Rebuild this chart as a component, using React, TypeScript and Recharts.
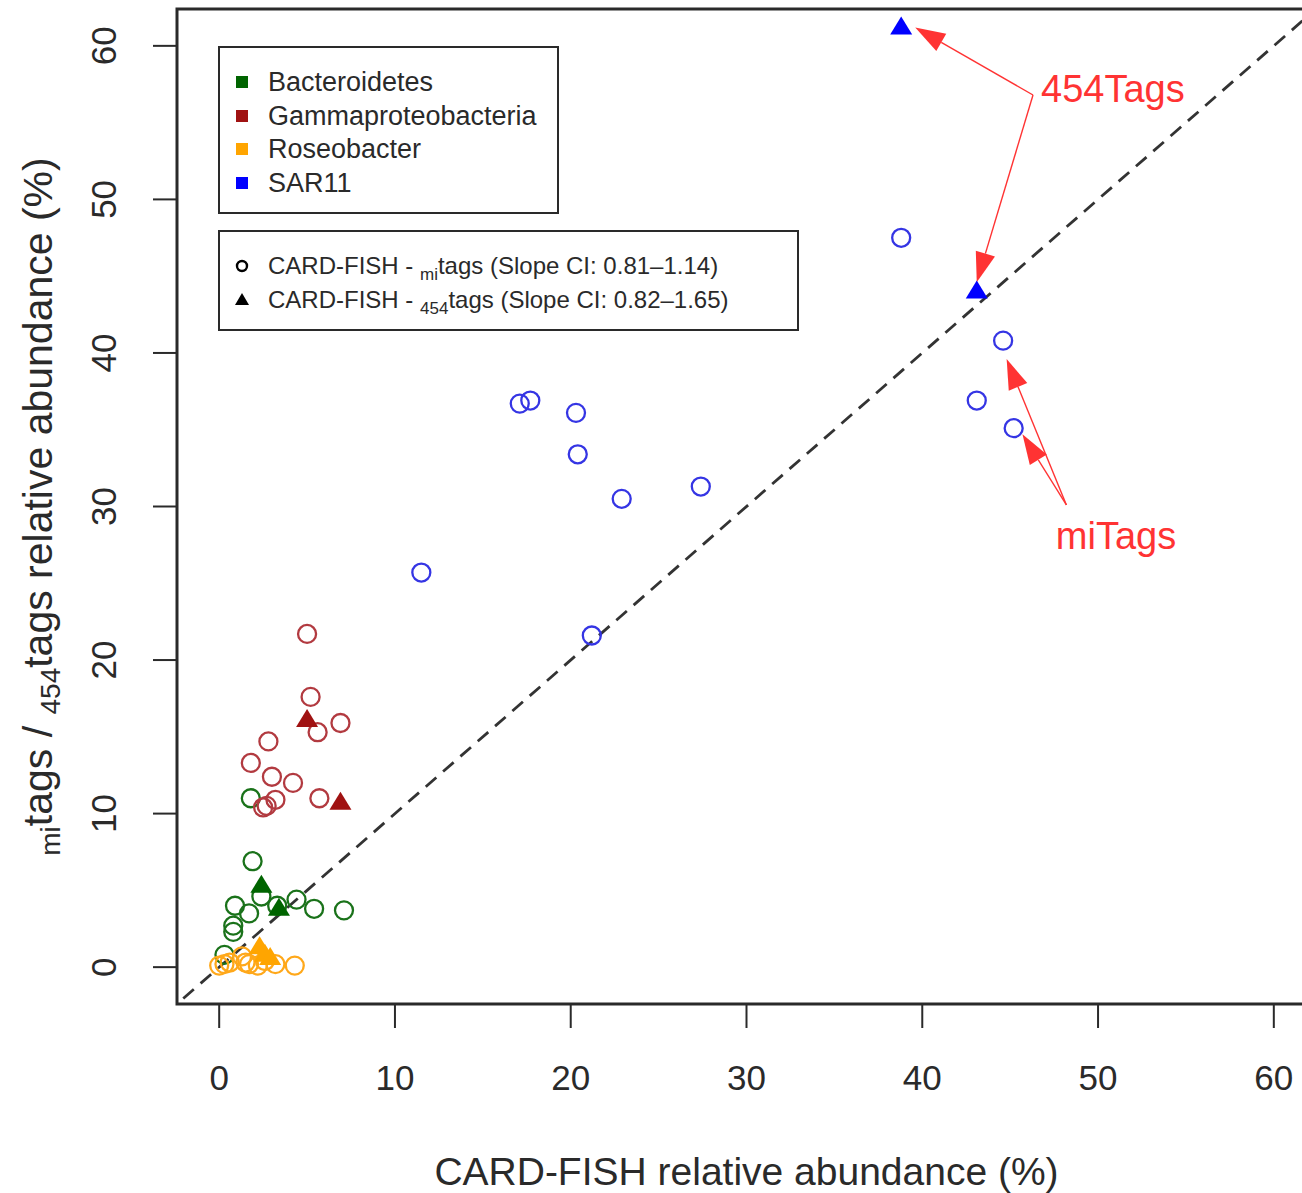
import React from 'react';
import {
  ScatterChart,
  Scatter,
  XAxis,
  YAxis,
  ReferenceLine,
  ReferenceArea,
  ReferenceDot,
  Legend,
} from 'recharts';

const FONT = '"Liberation Sans", Arial, Helvetica, sans-serif';
const INK = '#2a2a2a';
const RED = '#ff3333';

// axis range (R style 4% padding around 0..60)
const AXIS_MIN = -2.4;
const AXIS_MAX = 62.4;
const TICKS = [0, 10, 20, 30, 40, 50, 60];

type Pt = { x: number; y: number };

// x = CARD-FISH %, y = tag-based %
const bacteroidetesMi: Pt[] = [
  { x: 1.9, y: 6.9 }, { x: 1.8, y: 11.0 }, { x: 0.9, y: 4.0 }, { x: 1.7, y: 3.5 },
  { x: 0.8, y: 2.7 }, { x: 0.8, y: 2.3 }, { x: 2.4, y: 4.6 }, { x: 3.3, y: 4.0 },
  { x: 4.4, y: 4.4 }, { x: 5.4, y: 3.8 }, { x: 7.1, y: 3.7 }, { x: 0.3, y: 0.8 },
];
const bacteroidetes454: Pt[] = [{ x: 2.4, y: 5.3 }, { x: 3.4, y: 3.8 }];

const gammaMi: Pt[] = [
  { x: 5.0, y: 21.7 }, { x: 5.2, y: 17.6 }, { x: 5.6, y: 15.3 }, { x: 6.9, y: 15.9 },
  { x: 2.8, y: 14.7 }, { x: 1.8, y: 13.3 }, { x: 3.0, y: 12.4 }, { x: 4.2, y: 12.0 },
  { x: 3.2, y: 10.9 }, { x: 2.7, y: 10.5 }, { x: 2.5, y: 10.4 }, { x: 5.7, y: 11.0 },
];
const gamma454: Pt[] = [{ x: 5.0, y: 16.1 }, { x: 6.9, y: 10.7 }];

const roseobacterMi: Pt[] = [
  { x: 0.0, y: 0.1 }, { x: 0.3, y: 0.2 }, { x: 0.6, y: 0.3 }, { x: 1.5, y: 0.3 },
  { x: 1.7, y: 0.2 }, { x: 2.2, y: 0.1 }, { x: 2.6, y: 0.4 }, { x: 3.2, y: 0.2 },
  { x: 4.3, y: 0.1 }, { x: 1.3, y: 0.7 },
];
const roseobacter454: Pt[] = [{ x: 2.3, y: 1.3 }, { x: 2.6, y: 0.8 }, { x: 2.9, y: 0.6 }];

const sar11Mi: Pt[] = [
  { x: 38.8, y: 47.5 }, { x: 17.1, y: 36.7 }, { x: 17.7, y: 36.9 }, { x: 20.3, y: 36.1 },
  { x: 20.4, y: 33.4 }, { x: 22.9, y: 30.5 }, { x: 27.4, y: 31.3 }, { x: 11.5, y: 25.7 },
  { x: 21.2, y: 21.6 }, { x: 44.6, y: 40.8 }, { x: 43.1, y: 36.9 }, { x: 45.2, y: 35.1 },
];
const sar11454: Pt[] = [{ x: 38.8, y: 61.2 }, { x: 43.1, y: 44.0 }];

const GROUP_NAMES = ['Bacteroidetes', 'Gammaproteobacteria', 'Roseobacter', 'SAR11'];
const GROUP_COLORS = ['#006400', '#a01212', '#ffa500', '#0000ff'];
const RING_COLORS = ['#1a721a', '#b23a40', '#ffa81a', '#3535e4'];
const GROUP_MI = [bacteroidetesMi, gammaMi, roseobacterMi, sar11Mi];
const GROUP_454 = [bacteroidetes454, gamma454, roseobacter454, sar11454];

// red call-out arrows: tail -> head
const tags454Tail: Pt = { x: 46.3, y: 56.8 };
const tags454Heads: Pt[] = [{ x: 39.6, y: 61.2 }, { x: 43.1, y: 44.6 }];
const miTagsTail: Pt = { x: 48.2, y: 30.1 };
const miTagsHeads: Pt[] = [{ x: 44.8, y: 39.6 }, { x: 45.7, y: 34.7 }];
const tags454Label: Pt = { x: 46.76, y: 56.35 };
const miTagsLabel: Pt = { x: 47.6, y: 27.2 };

const ring = (color: string) => (p: any) => (
  <circle cx={p.cx} cy={p.cy} r={9} fill="none" stroke={color} strokeWidth={2.3} />
);

const triangle = (color: string) => (p: any) => (
  <polygon
    points={`${p.cx},${p.cy - 11} ${p.cx - 11},${p.cy + 7} ${p.cx + 11},${p.cy + 7}`}
    fill={color}
  />
);

const HEAD_LEN = 30;
const HEAD_HALF = 10;

const Arrow = (p: any) => {
  const { x1, y1, x2, y2 } = p;
  const len = Math.hypot(x2 - x1, y2 - y1);
  const ux = (x2 - x1) / len;
  const uy = (y2 - y1) / len;
  const bx = x2 - ux * HEAD_LEN;
  const by = y2 - uy * HEAD_LEN;
  const px = -uy * HEAD_HALF;
  const py = ux * HEAD_HALF;
  return (
    <g>
      <line x1={x1} y1={y1} x2={bx} y2={by} stroke={RED} strokeWidth={1.4} />
      <polygon points={`${x2},${y2} ${bx + px},${by + py} ${bx - px},${by - py}`} fill={RED} />
    </g>
  );
};

const callout = (text: string) => (p: any) => (
  <text x={p.cx} y={p.cy} fill={RED} fontSize={38} fontFamily={FONT}>
    {text}
  </text>
);

const XTick = (p: any) => (
  <text x={p.x} y={p.y + 60} textAnchor="middle" fontSize={35} fill={INK} fontFamily={FONT}>
    {p.payload.value}
  </text>
);

const YTick = (p: any) => (
  <text
    x={116}
    y={p.y}
    transform={`rotate(-90, 116, ${p.y})`}
    textAnchor="middle"
    fontSize={35}
    fill={INK}
    fontFamily={FONT}
  >
    {p.payload.value}
  </text>
);

const XTitle = (p: any) => {
  const vb = p.viewBox;
  return (
    <text x={vb.x + vb.width / 2} y={1185} textAnchor="middle" fontSize={39} fill={INK} fontFamily={FONT}>
      CARD-FISH relative abundance (%)
    </text>
  );
};

const YTitle = (p: any) => {
  const vb = p.viewBox;
  const cy = vb.y + vb.height / 2;
  return (
    <text
      x={52}
      y={cy}
      transform={`rotate(-90, 52, ${cy})`}
      textAnchor="middle"
      fontSize={41}
      fill={INK}
      fontFamily={FONT}
    >
      <tspan fontSize={28} dy={8}>mi</tspan>
      <tspan dy={-8}>tags / </tspan>
      <tspan fontSize={28} dy={8}>454</tspan>
      <tspan dy={-8}>tags relative abundance (%)</tspan>
    </text>
  );
};

const sub = { fontSize: 17, position: 'relative' as const, top: 6 };

const LegendBoxes = () => (
  <div style={{ position: 'relative', width: 582, height: 286, fontFamily: FONT, color: INK }}>
    <div
      style={{
        position: 'absolute', left: 0, top: 0, width: 341, height: 168,
        border: `2.5px solid ${INK}`, boxSizing: 'border-box',
      }}
    >
      {GROUP_NAMES.map((name, i) => (
        <div key={name} style={{ position: 'absolute', left: 0, top: 17 + i * 33.7, height: 34, width: 330 }}>
          <div
            style={{
              position: 'absolute', left: 16, top: 11, width: 12, height: 12,
              background: GROUP_COLORS[i],
            }}
          />
          <div style={{ position: 'absolute', left: 48, top: 0, lineHeight: '34px', fontSize: 27, whiteSpace: 'nowrap' }}>
            {name}
          </div>
        </div>
      ))}
    </div>
    <div
      style={{
        position: 'absolute', left: 0, top: 184, width: 581, height: 101,
        border: `2.5px solid ${INK}`, boxSizing: 'border-box',
      }}
    >
      <svg style={{ position: 'absolute', left: 0, top: 0 }} width={40} height={100}>
        <circle cx={22} cy={34} r={5} fill="none" stroke="#000" strokeWidth={2.4} />
        <polygon points="22,61 15,73 29,73" fill="#000" />
      </svg>
      <div style={{ position: 'absolute', left: 48, top: 17, lineHeight: '34px', fontSize: 24, whiteSpace: 'nowrap' }}>
        CARD-FISH - <span style={sub}>mi</span>tags (Slope CI: 0.81–1.14)
      </div>
      <div style={{ position: 'absolute', left: 48, top: 51, lineHeight: '34px', fontSize: 24, whiteSpace: 'nowrap' }}>
        CARD-FISH - <span style={sub}>454</span>tags (Slope CI: 0.82–1.65)
      </div>
    </div>
  </div>
);

export default function App() {
  return (
    <div style={{ position: 'fixed', left: 0, top: 0, width: 1302, height: 1193, overflow: 'hidden', background: '#fff' }}>
      <ScatterChart width={1326} height={1193} margin={{ top: 9, right: 10, bottom: 0, left: 0 }}>
        <XAxis
          type="number"
          dataKey="x"
          domain={[AXIS_MIN, AXIS_MAX]}
          allowDataOverflow
          ticks={TICKS}
          tickSize={24}
          axisLine={false}
          tickLine={{ stroke: INK, strokeWidth: 2 }}
          tick={XTick}
          height={189}
          label={XTitle}
        />
        <YAxis
          type="number"
          dataKey="y"
          domain={[AXIS_MIN, AXIS_MAX]}
          allowDataOverflow
          ticks={TICKS}
          tickSize={24}
          axisLine={false}
          tickLine={{ stroke: INK, strokeWidth: 2 }}
          tick={YTick}
          width={177}
          label={YTitle}
        />
        <ReferenceArea
          x1={AXIS_MIN}
          x2={AXIS_MAX}
          y1={AXIS_MIN}
          y2={AXIS_MAX}
          fill="none"
          fillOpacity={0}
          stroke={INK}
          strokeWidth={3}
          ifOverflow="visible"
        />
        {GROUP_NAMES.map((name, i) => (
          <Scatter
            key={`${name}-mi`}
            name={`${name} mi`}
            data={GROUP_MI[i]}
            shape={ring(RING_COLORS[i])}
            isAnimationActive={false}
          />
        ))}
        {GROUP_NAMES.map((name, i) => (
          <Scatter
            key={`${name}-454`}
            name={`${name} 454`}
            data={GROUP_454[i]}
            shape={triangle(GROUP_COLORS[i])}
            isAnimationActive={false}
          />
        ))}
        <ReferenceLine
          segment={[{ x: -5, y: -5 }, { x: 70, y: 70 }]}
          stroke="#333"
          strokeWidth={2.8}
          strokeDasharray="14 9"
          ifOverflow="hidden"
        />
        {tags454Heads.map((h, i) => (
          <ReferenceLine key={`a454-${i}`} segment={[tags454Tail, h]} shape={Arrow} ifOverflow="visible" />
        ))}
        {miTagsHeads.map((h, i) => (
          <ReferenceLine key={`ami-${i}`} segment={[miTagsTail, h]} shape={Arrow} ifOverflow="visible" />
        ))}
        <ReferenceDot x={tags454Label.x} y={tags454Label.y} shape={callout('454Tags')} ifOverflow="visible" />
        <ReferenceDot x={miTagsLabel.x} y={miTagsLabel.y} shape={callout('miTags')} ifOverflow="visible" />
        <Legend
          layout="vertical"
          align="center"
          verticalAlign="middle"
          wrapperStyle={{ left: 218, top: 46, width: 582 }}
          content={LegendBoxes}
        />
      </ScatterChart>
    </div>
  );
}
